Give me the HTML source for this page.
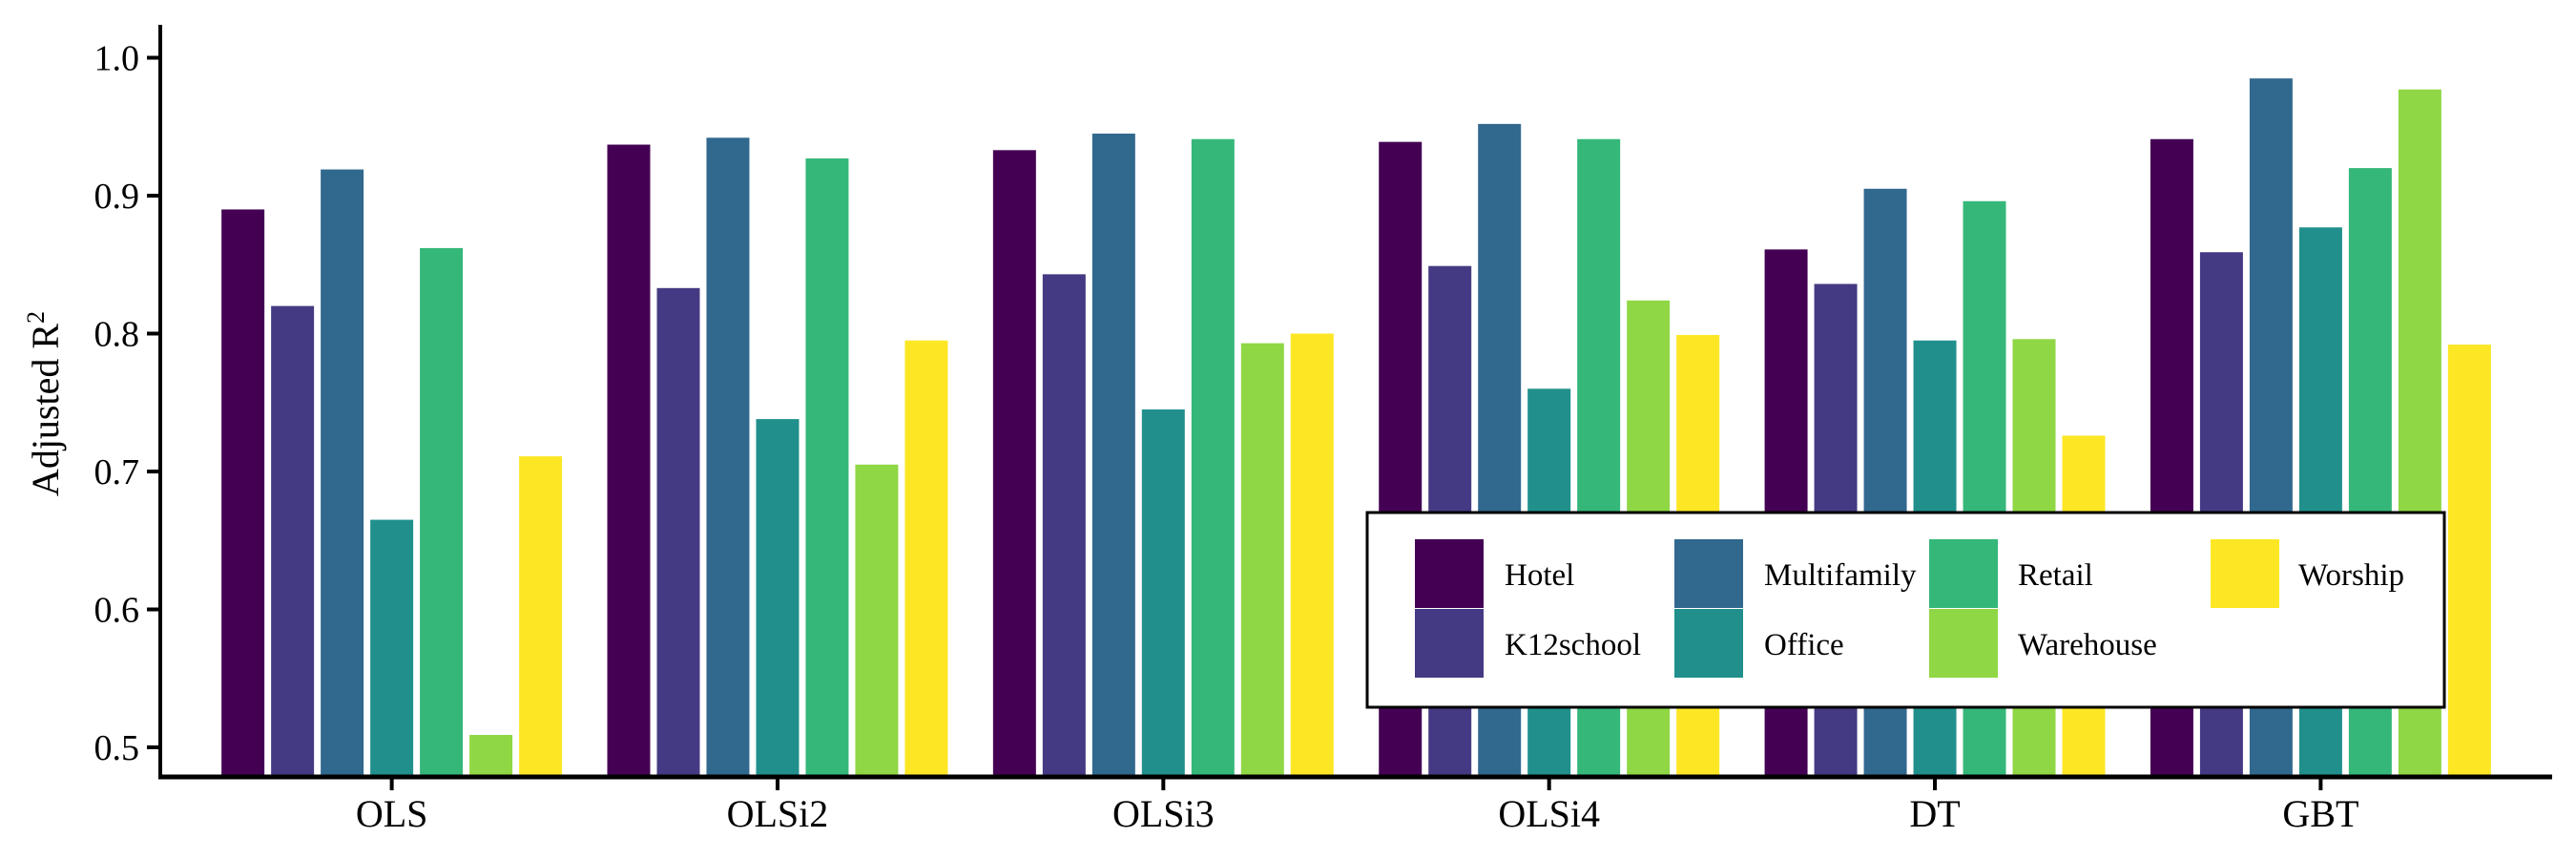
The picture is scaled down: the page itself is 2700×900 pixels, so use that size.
<!DOCTYPE html>
<html><head><meta charset="utf-8"><style>
html,body{margin:0;padding:0;background:#fff;}
svg{display:block;font-family:"Liberation Serif",serif;}
</style></head><body>
<svg id="chart" width="2700" height="900" viewBox="0 0 2700 900" xmlns="http://www.w3.org/2000/svg">
<g id="bars"></g>
<g id="axes"></g>
<g id="legend"></g>
</svg>
<script>
const categories = ["OLS","OLSi2","OLSi3","OLSi4","DT","GBT"];
const seriesNames = ["Hotel","K12school","Multifamily","Office","Retail","Warehouse","Worship"];
const hotel       = [0.890,0.937,0.933,0.939,0.861,0.941];
const k12school   = [0.820,0.833,0.843,0.849,0.836,0.859];
const multifamily = [0.919,0.942,0.945,0.952,0.905,0.985];
const office      = [0.665,0.738,0.745,0.760,0.795,0.877];
const retail      = [0.862,0.927,0.941,0.941,0.896,0.920];
const warehouse   = [0.509,0.705,0.793,0.824,0.796,0.977];
const worship     = [0.711,0.795,0.800,0.799,0.726,0.792];
const yTicks = [0.5,0.6,0.7,0.8,0.9,1.0];
const yTickLabels = ["0.5","0.6","0.7","0.8","0.9","1.0"];

const series = [hotel,k12school,multifamily,office,retail,warehouse,worship];
const colors = ["#440154","#443A83","#31688E","#21908C","#35B779","#8FD744","#FDE725"];
const NS = "http://www.w3.org/2000/svg";
const X0 = 168, XEND = 2675, AXY = 814;
const unit = (XEND - X0) / (categories.length - 1 + 1.2);
function xPos(i){ return X0 + (0.6 + i) * unit; }
function yPos(v){ return 783 - (v - 0.5) * 1445; }
function mk(tag, attrs, parent){ const e=document.createElementNS(NS,tag); for(const k in attrs) e.setAttribute(k,attrs[k]); parent.appendChild(e); return e; }

const barsG = document.getElementById('bars');
const slot = 0.9 * unit / series.length;
const bw = slot - 7;
series.forEach((vals, s) => {
  vals.forEach((v, i) => {
    const cx = xPos(i) - 0.45*unit + slot*(s+0.5);
    const y = yPos(v);
    const r = mk('rect',{x:cx-bw/2,y:y,width:bw,height:AXY-y,fill:colors[s]},barsG);
    
    
  });
});

const ax = document.getElementById('axes');
const yl = mk('line',{x1:X0,y1:26,x2:X0,y2:AXY+2,stroke:'#000','stroke-width':4},ax);


const xl = mk('line',{x1:X0-2,y1:AXY,x2:XEND,y2:AXY,stroke:'#000','stroke-width':5},ax);


yTicks.forEach((t,i)=>{
  const y=yPos(t);
  const tk = mk('line',{x1:X0-14,y1:y,x2:X0,y2:y,stroke:'#000','stroke-width':4},ax);
  
  
  const tx = mk('text',{x:X0-22,y:y+13,'text-anchor':'end','font-size':38,fill:'#000'},ax);
  tx.textContent = yTickLabels[i];
  
  
});
categories.forEach((c,i)=>{
  const x=xPos(i);
  const tk = mk('line',{x1:x,y1:AXY,x2:x,y2:828,stroke:'#000','stroke-width':4},ax);
  
  
  const tx = mk('text',{x:x,y:866,'text-anchor':'middle','font-size':40,fill:'#000'},ax);
  tx.textContent = c;
  
  
});
const yt = mk('text',{x:0,y:0,'text-anchor':'middle','font-size':40,fill:'#000',transform:'translate(61,423) rotate(-90)'},ax);


yt.appendChild(document.createTextNode('Adjusted R'));
const sup = mk('tspan',{dy:-15,'font-size':26},yt);
sup.textContent='2';

const lg = document.getElementById('legend');
const box = mk('rect',{x:1433,y:537,width:1129,height:204,fill:'#fff',stroke:'#000','stroke-width':3},lg);


const colKeyX=[1483,1755,2022,2317], colLabX=[1577,1849,2115,2409];
const order=[[0,0],[0,1],[1,0],[1,1],[2,0],[2,1],[3,0]];
order.forEach(([c,r],s)=>{
  const ky = 565 + r*73;
  const k = mk('rect',{x:colKeyX[c],y:ky,width:72,height:72,fill:colors[s]},lg);
  
  
  const t = mk('text',{x:colLabX[c],y:ky+48,'font-size':33,fill:'#000'},lg);
  t.textContent = seriesNames[s];
  
  
});
</script>
</body></html>
